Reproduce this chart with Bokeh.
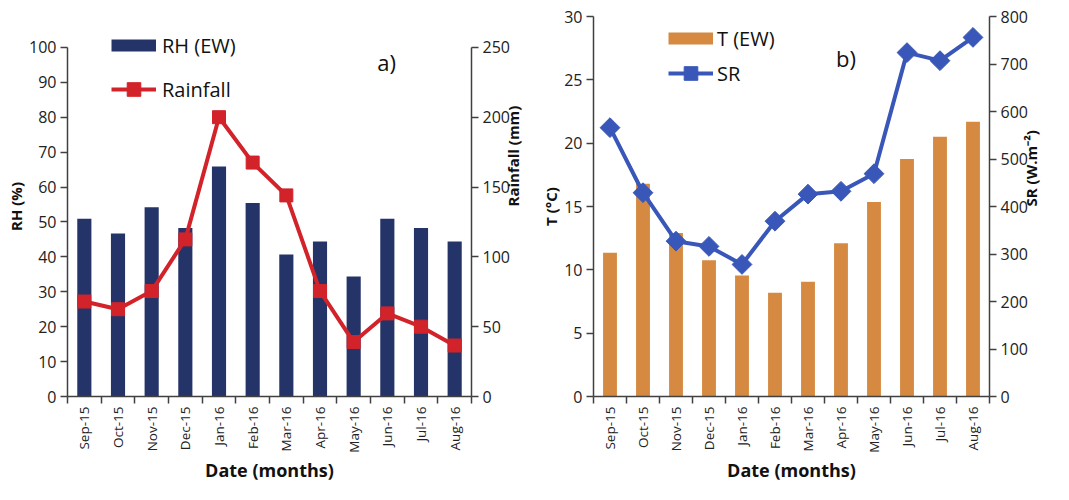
import math
from bokeh.plotting import figure
from bokeh.models import Range1d, LinearAxis, FixedTicker, Legend, LegendItem, Label
from bokeh.layouts import row
from bokeh.embed import file_html
from bokeh.resources import INLINE

months = ["Sep-15", "Oct-15", "Nov-15", "Dec-15", "Jan-16", "Feb-16",
          "Mar-16", "Apr-16", "May-16", "Jun-16", "Jul-16", "Aug-16"]
rh = [50.9, 46.7, 54.2, 48.3, 65.9, 55.4, 40.7, 44.4, 34.4, 50.9, 48.3, 44.4]
rainfall = [68, 62.5, 75.5, 112.5, 200, 167.5, 144, 75.5, 39, 59.5, 50, 36.5]
temp = [11.35, 16.8, 12.9, 10.75, 9.55, 8.2, 9.05, 12.1, 15.35, 18.75, 20.5, 21.7]
sr = [566, 429, 327, 316, 278, 369, 426, 432, 469, 724, 707, 756]

FONT = "Open Sans"
AX = "#404040"
NAVY = "#253468"
RED = "#d2232a"
ORANGE = "#d68a41"
BLUE = "#3957b8"
pos = [i + 1 for i in range(len(months))]
bounds = [i + 0.5 for i in range(len(months) + 1)]
blank = [float("nan")] * len(months)   # legend key only, draws nothing


def style_axis(ax, tick_font="16px"):
    ax.axis_line_color = AX
    ax.axis_line_width = 1.5
    ax.major_tick_line_color = AX
    ax.major_tick_line_width = 1.5
    ax.major_tick_in = 0
    ax.major_tick_out = 7
    ax.minor_tick_line_color = None
    ax.major_label_standoff = 4
    ax.major_label_text_font = FONT
    ax.major_label_text_font_size = tick_font
    ax.major_label_text_color = "#222222"
    ax.axis_label_text_font = FONT
    ax.axis_label_text_font_style = "bold"
    ax.axis_label_text_font_size = "15px"
    ax.axis_label_text_color = "#111111"
    ax.axis_label_standoff = 0


def style_xaxis(p):
    ax = p.xaxis[0]
    style_axis(ax, "13.5px")
    ax.ticker = FixedTicker(ticks=pos, minor_ticks=bounds)
    ax.major_label_overrides = {k: m for k, m in zip(pos, months)}
    ax.major_tick_out = 0
    ax.major_tick_line_color = None
    ax.minor_tick_line_color = AX
    ax.minor_tick_line_width = 1.5
    ax.minor_tick_in = 0
    ax.minor_tick_out = 7
    ax.major_label_standoff = 3
    ax.major_label_orientation = math.pi / 2
    ax.axis_label = "Date (months)"
    ax.axis_label_text_font_size = "18px"
    ax.axis_label_standoff = 2


def base_fig(width, bl, br, yr):
    p = figure(width=width, height=484, output_backend="svg", toolbar_location=None,
               x_range=Range1d(0.5, 12.5), y_range=yr,
               min_border_left=bl, min_border_right=br,
               min_border_top=16, min_border_bottom=87)
    p.outline_line_color = None
    p.xgrid.visible = False
    p.ygrid.visible = False
    p.background_fill_color = "white"
    return p


# ---------- Panel a ----------
pa = base_fig(535, 67, 64, Range1d(0, 108.85))
pa.extra_y_ranges = {"rain": Range1d(0, 272.1)}
pa.vbar(x=pos, top=rh, width=0.42, color=NAVY, line_color=None)
key_a = pa.line(x=pos, y=blank, line_color=NAVY, line_width=12)
line_a = pa.line(pos, rainfall, y_range_name="rain", line_color=RED, line_width=4)
pts_a = pa.scatter(pos, rainfall, y_range_name="rain", marker="square", size=13,
                   fill_color=RED, line_color=RED)

style_axis(pa.yaxis[0])
pa.yaxis[0].ticker = FixedTicker(ticks=list(range(0, 101, 10)))
pa.yaxis[0].bounds = (0, 100)
pa.yaxis[0].axis_label = "RH (%)"

ra = LinearAxis(y_range_name="rain", axis_label="Rainfall (mm)")
style_axis(ra)
ra.ticker = FixedTicker(ticks=list(range(0, 251, 50)))
ra.bounds = (0, 250)
ra.axis_label_orientation = math.pi / 2
pa.add_layout(ra, "right")
style_xaxis(pa)

leg_a = Legend(items=[LegendItem(label="RH (EW)", renderers=[key_a]),
                      LegendItem(label="Rainfall", renderers=[line_a, pts_a])],
               location=(44, 290))
pa.add_layout(leg_a)
pa.add_layout(Label(x=9.70, y=95.9, text="a)", text_font=FONT, text_font_size="22px",
                    text_baseline="middle", text_color="#111111"))

# ---------- Panel b ----------
pb = base_fig(518, 58, 62, Range1d(0, 30))
pb.extra_y_ranges = {"sr": Range1d(0, 800)}
pb.vbar(x=pos, top=temp, width=0.42, color=ORANGE, line_color=None)
key_b = pb.line(x=pos, y=blank, line_color=ORANGE, line_width=12)
line_b = pb.line(pos, sr, y_range_name="sr", line_color=BLUE, line_width=4)
pts_b = pb.scatter(pos, sr, y_range_name="sr", marker="square", angle=math.pi / 4, size=14,
                   fill_color=BLUE, line_color=BLUE)

style_axis(pb.yaxis[0])
pb.yaxis[0].ticker = FixedTicker(ticks=list(range(0, 31, 5)))
pb.yaxis[0].axis_label = "T (°C)"

rb = LinearAxis(y_range_name="sr", axis_label="SR (W.m⁻²)")
style_axis(rb)
rb.ticker = FixedTicker(ticks=list(range(0, 801, 100)))
rb.axis_label_orientation = math.pi / 2
pb.add_layout(rb, "right")
style_xaxis(pb)

leg_b = Legend(items=[LegendItem(label="T (EW)", renderers=[key_b]),
                      LegendItem(label="SR", renderers=[line_b, pts_b])],
               location=(75, 306))
pb.add_layout(leg_b)
pb.add_layout(Label(x=7.85, y=26.7, text="b)", text_font=FONT, text_font_size="22px",
                    text_baseline="middle", text_color="#111111"))

for lg, sp, so in [(leg_a, 10, 6), (leg_b, 1, 4)]:
    lg.glyph_width = 45
    lg.glyph_height = 34
    lg.label_height = 24
    lg.label_text_font = FONT
    lg.label_text_font_size = "20px"
    lg.label_text_color = "#111111"
    lg.label_standoff = so
    lg.spacing = sp
    lg.padding = 0
    lg.margin = 0
    lg.border_line_alpha = 0
    lg.background_fill_alpha = 0

layout = row(pa, pb, spacing=0)
open("out.html", "w").write(file_html(layout, INLINE))
